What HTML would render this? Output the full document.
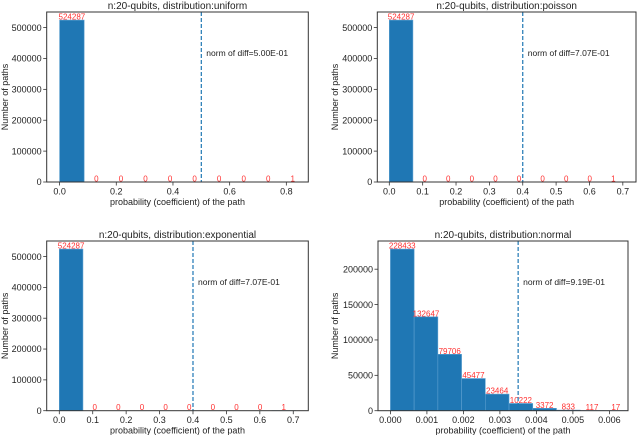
<!DOCTYPE html>
<html><head><meta charset="utf-8">
<style>
body{margin:0;background:#fff;width:640px;height:435px;overflow:hidden}
svg text{font-family:"Liberation Sans","DejaVu Sans",sans-serif}
</style></head>
<body>
<svg id="chart" width="640" height="435" viewBox="0 0 640 435" xmlns="http://www.w3.org/2000/svg"></svg>
<script>
// ---- data ----
const panelTitles = ["n:20-qubits, distribution:uniform","n:20-qubits, distribution:poisson","n:20-qubits, distribution:exponential","n:20-qubits, distribution:normal"];
const countsUniform = [524287,0,0,0,0,0,0,0,0,1];
const countsPoisson = [524287,0,0,0,0,0,0,0,0,1];
const countsExponential = [524287,0,0,0,0,0,0,0,0,1];
const countsNormal = [228433,132647,79706,45477,23464,10222,3372,833,117,17];
const binWidths = [0.0866,0.0707,0.0707,0.00065];
const normLines = [0.5,0.4,0.4,0.0035];
const normLabels = ["norm of diff=5.00E-01","norm of diff=7.07E-01","norm of diff=7.07E-01","norm of diff=9.19E-01"];
const xTicksA = [0,0.2,0.4,0.6,0.8];
const xTicksB = [0,0.1,0.2,0.3,0.4,0.5,0.6,0.7];
const xTicksN = [0,0.001,0.002,0.003,0.004,0.005,0.006];
const yTicksBig = [0,100000,200000,300000,400000,500000];
const yTicksN = [0,50000,100000,150000,200000];

const svg = document.getElementById('chart');
const NS = "http://www.w3.org/2000/svg";
function mk(tag, attrs, parent){const e=document.createElementNS(NS,tag);for(const k in attrs)e.setAttribute(k,attrs[k]);(parent||svg).appendChild(e);return e;}

const panels = [
 {name:'uniform', box:[46.7,12,308.3,182], xlim:[-0.0455,0.8775], counts:countsUniform, xt:xTicksA, yt:yTicksBig, dec:1, ylx:5},
 {name:'poisson', box:[377.3,12,636,182], xlim:[-0.036,0.7395], counts:countsPoisson, xt:xTicksB, yt:yTicksBig, dec:1, ylx:335},
 {name:'exponential', box:[46.7,241,308.3,410.7], xlim:[-0.0377,0.745], counts:countsExponential, xt:xTicksB, yt:yTicksBig, dec:1, ylx:5},
 {name:'normal', box:[378,241,628,410.7], xlim:[-0.00034,0.00651], counts:countsNormal, xt:xTicksN, yt:yTicksN, dec:3, ylx:335}
];

panels.forEach((p,i)=>{
  const [L,T,R,B]=p.box;
  const g=mk('g',{});
  
  
  const ymax=Math.max(...p.counts)*1.05;
  const sx=v=>L+(v-p.xlim[0])/(p.xlim[1]-p.xlim[0])*(R-L);
  const sy=v=>B-v/ymax*(B-T);
  const bw=binWidths[i];
  p.counts.forEach((c,k)=>{
    const x0=sx(k*bw), x1=sx((k+1)*bw);
    if(c>0){
      const r=mk('rect',{x:x0,y:sy(c),width:x1-x0,height:B-sy(c),fill:'#1f77b4',stroke:'#5b9fd0','stroke-width':0.6},g);
      
      
    }
    const t=mk('text',{x:(x0+x1)/2,y:sy(c)-0.5,'font-size':8,fill:'#ff3030','text-anchor':'middle'},g);
    t.textContent=String(c);
    
    
  });
  const vx=sx(normLines[i]);
  const vl=mk('line',{x1:vx,x2:vx,y1:T,y2:B,stroke:'#1f77b4','stroke-width':1.2,'stroke-dasharray':'4,2'},g);
  
  
  const nt=mk('text',{x:vx+5,y:T+44,'font-size':8.5,fill:'#222'},g);
  nt.textContent=normLabels[i];
  
  
  const frame=mk('rect',{x:L,y:T,width:R-L,height:B-T,fill:'none',stroke:'#333','stroke-width':1},g);
  
  
  p.xt.forEach(v=>{
    const x=sx(v);
    mk('line',{x1:x,x2:x,y1:B,y2:B+3.5,stroke:'#333','stroke-width':0.8},g);
    const t=mk('text',{x:x,y:B+12.5,'font-size':9,fill:'#222','text-anchor':'middle'},g);
    t.textContent=v.toFixed(p.dec);
    
    
  });
  p.yt.forEach(v=>{
    const y=sy(v);
    mk('line',{x1:L-3.5,x2:L,y1:y,y2:y,stroke:'#333','stroke-width':0.8},g);
    const t=mk('text',{x:L-5,y:y+3.2,'font-size':9,fill:'#222','text-anchor':'end'},g);
    t.textContent=String(v);
    
    
  });
  const xl=mk('text',{x:(L+R)/2,y:B+23,'font-size':9,fill:'#222','text-anchor':'middle'},g);
  xl.textContent='probability (coefficient) of the path';
  
  
  const ylx = p.ylx+3;
  const yl=mk('text',{x:ylx,y:(T+B)/2,'font-size':9,fill:'#222','text-anchor':'middle',transform:`rotate(-90 ${ylx} ${(T+B)/2})`},g);
  yl.textContent='Number of paths';
  
  
  const tt=mk('text',{x:(L+R)/2,y:T-3,'font-size':10,fill:'#222','text-anchor':'middle'},g);
  tt.textContent=panelTitles[i];
  
  
});
</script>
</body></html>
